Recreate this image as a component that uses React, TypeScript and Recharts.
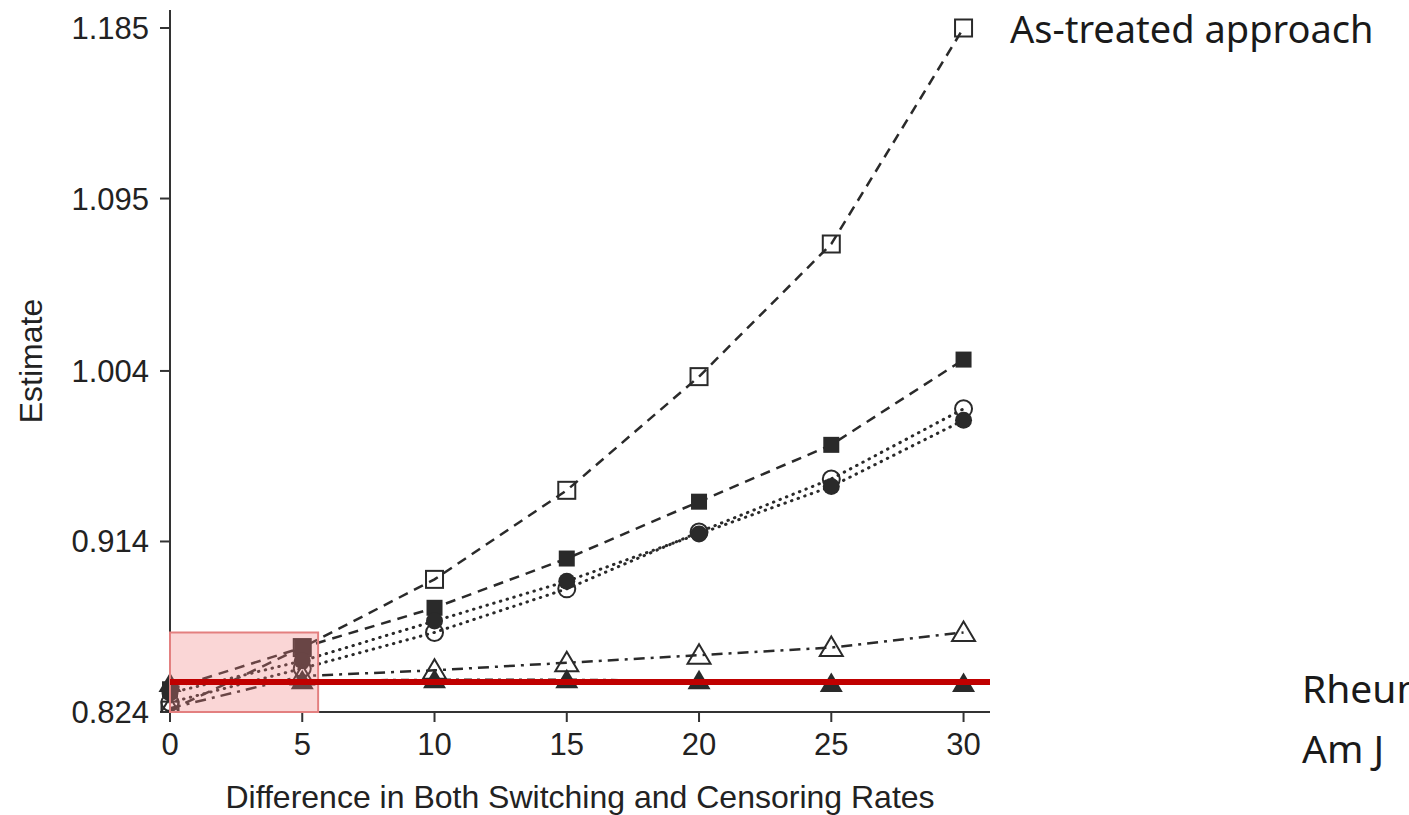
import React from 'react';
import { LineChart, Line, XAxis, YAxis, ReferenceLine, ReferenceArea } from 'recharts';

const diffRates = [0, 5, 10, 15, 20, 25, 30];
const openSquare = [0.825, 0.858, 0.894, 0.941, 1.001, 1.071, 1.185];
const filledSquare = [0.836, 0.858, 0.879, 0.905, 0.935, 0.965, 1.01];
const openCircle = [0.829, 0.847, 0.866, 0.889, 0.919, 0.947, 0.984];
const filledCircle = [0.834, 0.851, 0.872, 0.893, 0.918, 0.943, 0.978];
const openTriangle = [0.826, 0.843, 0.846, 0.85, 0.854, 0.858, 0.866];
const filledTriangle = [0.839, 0.8405, 0.841, 0.841, 0.8405, 0.839, 0.839];

const xTicks = [0, 5, 10, 15, 20, 25, 30];
const yTicks = [0.824, 0.914, 1.004, 1.095, 1.185];
const redLineValue = 0.8398;

const data = diffRates.map((x, i) => ({
  x,
  openSquare: openSquare[i],
  filledSquare: filledSquare[i],
  openCircle: openCircle[i],
  filledCircle: filledCircle[i],
  openTriangle: openTriangle[i],
  filledTriangle: filledTriangle[i],
}));

const INK = '#2a2a2a';
const sans = '"Liberation Sans", Arial, Helvetica, sans-serif';
const side = '"Noto Sans", "Open Sans", sans-serif';

// marker renderer for each series
const makeDot = (shape: string) => (props: any) => {
  const { cx, cy, index } = props;
  const key = `${shape}-${index}`;
  if (cx == null || cy == null) return <g key={key} />;
  switch (shape) {
    case 'openSquare':
      return <rect key={key} x={cx - 8.5} y={cy - 8.5} width={17} height={17} fill="none" stroke={INK} strokeWidth={2} />;
    case 'filledSquare':
      return <rect key={key} x={cx - 8} y={cy - 8} width={16} height={16} fill={INK} />;
    case 'openCircle':
      return <circle key={key} cx={cx} cy={cy} r={8.5} fill="none" stroke={INK} strokeWidth={2} />;
    case 'filledCircle':
      return <circle key={key} cx={cx} cy={cy} r={8.5} fill={INK} />;
    case 'openTriangle':
      return (
        <path key={key} d={`M${cx},${cy - 11} L${cx + 11.5},${cy + 8.5} L${cx - 11.5},${cy + 8.5} Z`} fill="none" stroke={INK} strokeWidth={2} />
      );
    default:
      return <path key={key} d={`M${cx},${cy - 11} L${cx + 11.5},${cy + 8.5} L${cx - 11.5},${cy + 8.5} Z`} fill={INK} />;
  }
};

const App: React.FC = () => {
  return (
    <div style={{ position: 'absolute', left: 0, top: 0, width: 1409, height: 815, background: '#fff' }}>
      <LineChart width={1409} height={815} data={data} margin={{ top: 10, right: 419, bottom: 0, left: 0 }}>
        <XAxis
          type="number"
          dataKey="x"
          domain={[0, 31]}
          ticks={xTicks}
          interval={0}
          height={103}
          tickSize={10}
          tickMargin={11}
          stroke="#333"
          strokeWidth={2}
          tick={{ fontSize: 31, fill: '#222', fontFamily: sans }}
          label={{
            value: 'Difference in Both Switching and Censoring Rates',
            position: 'insideBottom',
            offset: 7,
            style: { fontSize: 32, fill: '#222', fontFamily: sans },
          }}
        />
        <YAxis
          type="number"
          domain={[0.824, 1.1945]}
          ticks={yTicks}
          interval={0}
          allowDataOverflow
          width={170}
          tickSize={10}
          tickMargin={11}
          stroke="#333"
          strokeWidth={2}
          tickFormatter={(v: number) => v.toFixed(3)}
          tick={{ fontSize: 31, fill: '#222', fontFamily: sans }}
          label={{
            value: 'Estimate',
            angle: -90,
            position: 'insideLeft',
            offset: 31,
            style: { fontSize: 32, fill: '#222', fontFamily: sans, textAnchor: 'middle' },
          }}
        />
        <Line dataKey="openSquare" stroke={INK} strokeWidth={2.5} strokeDasharray="10 7" dot={makeDot('openSquare')} isAnimationActive={false} />
        <Line dataKey="filledSquare" stroke={INK} strokeWidth={2.5} strokeDasharray="10 7" dot={makeDot('filledSquare')} isAnimationActive={false} />
        <Line dataKey="openCircle" stroke={INK} strokeWidth={3} strokeLinecap="round" strokeDasharray="0.5 6.5" dot={makeDot('openCircle')} isAnimationActive={false} />
        <Line dataKey="filledCircle" stroke={INK} strokeWidth={3} strokeLinecap="round" strokeDasharray="0.5 6.5" dot={makeDot('filledCircle')} isAnimationActive={false} />
        <Line dataKey="openTriangle" stroke={INK} strokeWidth={2.5} strokeDasharray="11 6 3 6" dot={makeDot('openTriangle')} isAnimationActive={false} />
        <Line dataKey="filledTriangle" stroke={INK} strokeWidth={2.5} strokeDasharray="8 5 3 5" dot={makeDot('filledTriangle')} isAnimationActive={false} />
        <ReferenceArea
          x1={0}
          x2={5.6}
          y1={0.824}
          y2={0.866}
          fill="#f08080"
          fillOpacity={0.32}
          stroke="#e38080"
          strokeWidth={2}
          ifOverflow="extendDomain"
          zIndex={1000}
        />
        <ReferenceLine y={redLineValue} stroke="#c00000" strokeWidth={6} zIndex={1100} />
      </LineChart>
      <svg width={1409} height={815} style={{ position: 'absolute', left: 0, top: 0, pointerEvents: 'none' }}>
        <text x={1010} y={43} fontSize={38} fill="#1a1a1a" fontFamily={side}>
          As-treated approach
        </text>
        <text x={1302} y={703} fontSize={39} fill="#1a1a1a" fontFamily={side}>
          Rheum
        </text>
        <text x={1302} y={763} fontSize={39} fill="#1a1a1a" fontFamily={side}>
          Am J
        </text>
      </svg>
    </div>
  );
};

export default App;
